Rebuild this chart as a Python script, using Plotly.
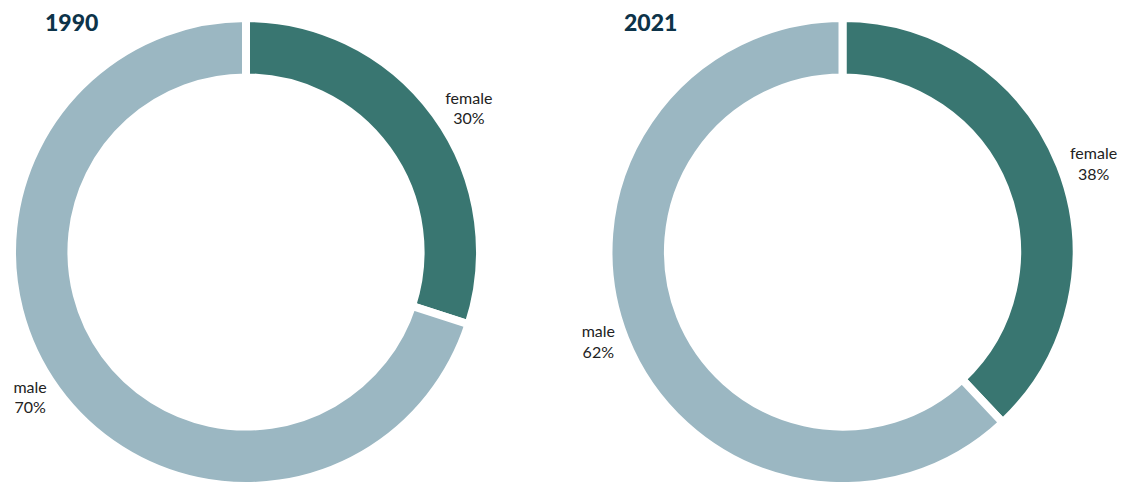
import plotly.graph_objects as go

labels = ["female", "male"]
years = ["1990", "2021"]
values_1990 = [30, 70]
values_2021 = [38, 62]
colors = ["#397671", "#9bb7c2"]

fig = go.Figure()

W, H = 1125, 490          # figure slightly taller than the window; overflow hidden
CY = 252                  # ring centre (px from top)
R = 234                   # pie radius (px)
centers_x = [246, 842.5]
for vals, cx in zip([values_1990, values_2021], centers_x):
    fig.add_trace(go.Pie(
        labels=labels,
        values=vals,
        sort=False,
        direction="clockwise",
        rotation=0,
        hole=0.746,
        marker=dict(colors=colors, line=dict(color="white", width=8)),
        textinfo="label+percent",
        textposition="outside",
        textfont=dict(family="Lato", size=16, color="#222222"),
        hoverinfo="skip",
        showlegend=False,
        domain=dict(x=[(cx - R) / W, (cx + R) / W],
                    y=[1 - (CY + R) / H, 1 - (CY - R) / H]),
    ))

title_x = [43, 622]
for yr, tx in zip(years, title_x):
    fig.add_annotation(
        text=yr, x=tx / W, y=1 - 22 / H,
        xref="paper", yref="paper", xanchor="left", yanchor="middle",
        showarrow=False,
        font=dict(family="Lato", size=23, color="#0d3349", weight=900),
    )

fig.update_layout(
    width=W, height=H,
    margin=dict(l=0, r=0, t=0, b=0),
    paper_bgcolor="white", plot_bgcolor="white",
)

fig.write_html(
    "out.html",
    post_script="document.documentElement.style.overflow='hidden';document.body.style.overflow='hidden';document.body.style.margin='0';",
)
